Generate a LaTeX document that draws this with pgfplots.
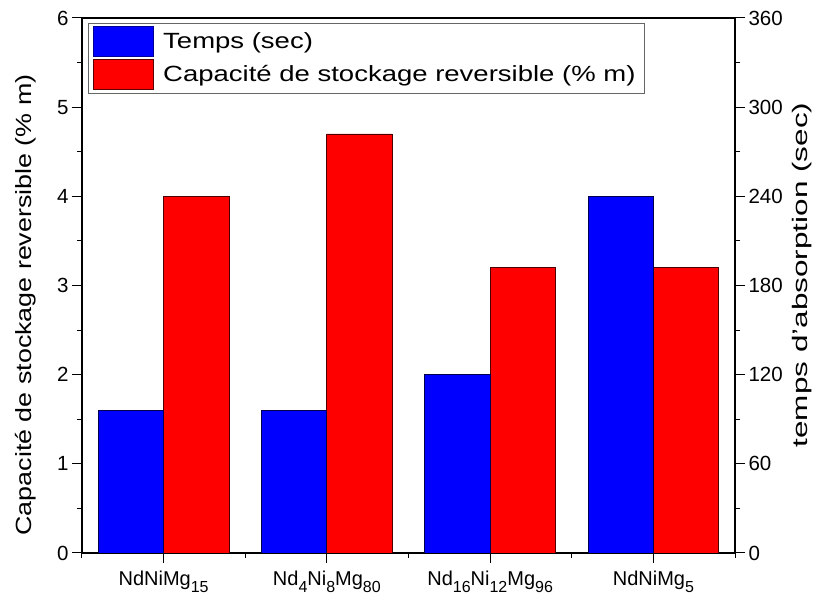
\documentclass[border=0pt]{standalone}
\usepackage{pgfplots}
\pgfplotsset{compat=1.18}
\usepackage{fontspec}
\setmainfont{Liberation Sans}
\usepackage{graphicx}
\definecolor{pblue}{RGB}{0,0,255}
\definecolor{pred}{RGB}{255,0,0}
\newcommand{\sub}[1]{\raisebox{-7pt}{\fontsize{16}{18}\selectfont #1}}
\begin{document}
\begin{tikzpicture}
\useasboundingbox (-82pt,-51pt) rectangle (737pt,553pt);
\pgfplotsset{
  common/.style={
    width=653pt, height=535pt, scale only axis,
    xmin=0.5, xmax=4.5,
    ybar, bar width=0.4,
    tick align=outside,
    major tick length=10pt, minor tick length=5pt,
    every tick/.style={black, line width=1pt},
    axis line style={line width=1.1pt},
    /pgf/number format/assume math mode=true,
    yticklabel style={font=\fontsize{20.5}{24}\selectfont},
    xticklabel style={font=\fontsize{20}{24}\selectfont, yshift=-4pt},
  }
}
\begin{axis}[common,
  ymin=0, ymax=6, ytick={0,1,...,6}, minor ytick={0.5,1.5,...,5.5},
  xtick={1,2,3,4}, minor xtick={0.5,1.5,2.5,3.5,4.5},
  xticklabels={NdNiMg\sub{15},Nd\sub{4}Ni\sub{8}Mg\sub{80},Nd\sub{16}Ni\sub{12}Mg\sub{96},NdNiMg\sub{5}},
  xtick pos=left, ytick pos=left,
  ylabel={\scalebox{1.22}[1]{Capacité de stockage reversible (\% m)}},
  ylabel style={font=\fontsize{22}{26}\selectfont, at={(axis description cs:-0.0858,0.4636)}, anchor=center},
]
\addplot[fill=pred, draw=black!70!red, line width=0.8pt, bar shift=0.2] coordinates {(1,4.0) (2,4.7) (3,3.2) (4,3.2)};
\end{axis}
\begin{axis}[common,
  ymin=0, ymax=360, ytick={0,60,...,360}, minor ytick={30,90,...,330},
  axis y line*=right, axis x line=none,
  ylabel={\scalebox{1.5}[1]{temps d'absorption (sec)}},
  ylabel style={font=\fontsize{21}{25}\selectfont, at={(axis description cs:1.1026,0.5196)}, anchor=center},
  legend cell align=left,
  legend style={at={(axis description cs:0.0092,0.9907)}, anchor=north west, draw=black!60, line width=0.8pt,
    font=\fontsize{22}{26}\selectfont, inner xsep=5pt, inner ysep=3pt, row sep=2pt, column sep=5pt,
    nodes={inner xsep=4pt, inner ysep=1pt}},
]
\addplot[fill=pblue, draw=black!70!blue, line width=0.8pt, bar shift=-0.2,
  legend image code/.code={\draw[fill=pblue,draw=blue!60!black,line width=0.8pt] (0pt,-15pt) rectangle (60pt,15pt);}]
  coordinates {(1,96) (2,96) (3,120) (4,240)};
\addlegendentry{\scalebox{1.25}[1]{Temps (sec)}}
\addlegendimage{fill=pred, draw=black!70!red, line width=0.8pt,
  legend image code/.code={\draw[fill=pred,draw=black!65!red,line width=0.8pt] (0pt,-15pt) rectangle (60pt,15pt);}}
\addlegendentry{\scalebox{1.25}[1]{Capacité de stockage reversible (\% m)}}
\end{axis}
\end{tikzpicture}
\end{document}
